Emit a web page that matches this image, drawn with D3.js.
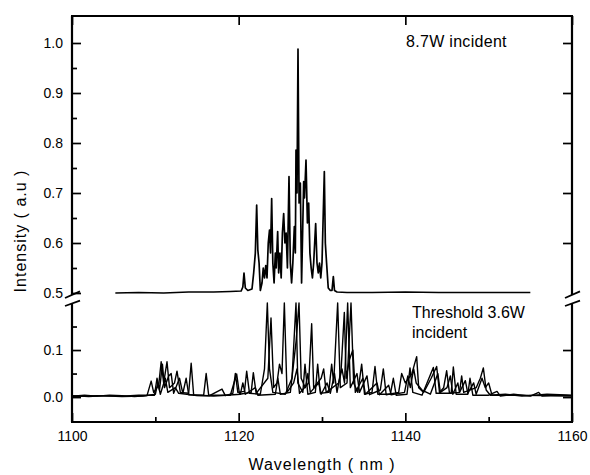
<!DOCTYPE html>
<html>
<head>
<meta charset="utf-8">
<script src="https://cdn.jsdelivr.net/npm/d3@7"></script>
<style>
  body { margin: 0; background: #fff; }
  svg { font-family: "Liberation Sans", Arial, sans-serif; }
  .tick line { stroke: #000; stroke-width: 1.7; }
  .tick text { fill: #000; }
</style>
</head>
<body>
<svg></svg>
<script>
// ticks
const xMajor = [1100, 1120, 1140, 1160];
const xMinor = [1110, 1130, 1150];
const upperMajor = [0.5, 0.6, 0.7, 0.8, 0.9, 1.0];
const upperMinor = [0.55, 0.65, 0.75, 0.85, 0.95];
const lowerMajor = [0.0, 0.1];
const lowerMinor = [0.05, 0.15];

// 8.7 W incident spectrum (wavelength nm, intensity)
const upperSpectrum = [
  [1105.2,0.500],[1108,0.501],[1111,0.500],[1114,0.502],[1117,0.502],[1119,0.503],[1120.3,0.504],
  [1120.5,0.512],[1120.64,0.540],[1120.8,0.510],[1121.1,0.505],[1121.6,0.508],[1121.8,0.540],
  [1122.0,0.580],[1122.16,0.676],[1122.3,0.586],[1122.45,0.560],[1122.6,0.505],[1122.8,0.520],
  [1122.95,0.550],[1123.1,0.530],[1123.25,0.555],[1123.4,0.530],[1123.55,0.600],[1123.7,0.626],
  [1123.82,0.580],[1123.96,0.689],[1124.1,0.560],[1124.25,0.520],[1124.4,0.580],[1124.5,0.550],
  [1124.68,0.623],[1124.8,0.540],[1124.95,0.580],[1125.1,0.530],[1125.25,0.620],[1125.4,0.659],
  [1125.55,0.600],[1125.7,0.620],[1125.85,0.550],[1126.04,0.733],[1126.2,0.560],[1126.35,0.520],
  [1126.5,0.560],[1126.68,0.633],[1126.8,0.580],[1126.88,0.786],[1127.0,0.700],[1127.12,0.988],
  [1127.25,0.680],[1127.4,0.720],[1127.55,0.520],[1127.65,0.600],[1127.8,0.723],[1127.9,0.690],
  [1128.08,0.766],[1128.25,0.640],[1128.4,0.680],[1128.55,0.580],[1128.7,0.550],[1128.85,0.530],
  [1129.0,0.560],[1129.24,0.639],[1129.4,0.560],[1129.55,0.540],[1129.7,0.560],[1129.85,0.530],
  [1130.0,0.560],[1130.28,0.743],[1130.4,0.600],[1130.55,0.560],[1130.75,0.510],[1131.0,0.505],
  [1131.2,0.505],[1131.36,0.533],[1131.5,0.505],[1131.8,0.502],[1133,0.501],[1136,0.501],
  [1140,0.502],[1144,0.501],[1148,0.501],[1152,0.501],[1155,0.501]
];

// threshold 3.6 W spectra, several overlaid scans
const lowerSpectrumA = [
  [1100.0,0.002],[1101.5,0.004],[1103.0,0.002],[1104.5,0.004],[1106.0,0.003],[1107.5,0.001],[1109.0,0.003],
  [1109.5,0.034],[1109.8,0.010],[1110.4,0.025],[1110.7,0.075],[1111.0,0.030],[1111.4,0.075],[1111.7,0.020],
  [1112.3,0.030],[1112.6,0.055],[1113.0,0.010],[1114.0,0.008],[1114.3,0.072],[1114.6,0.004],[1116.5,0.003],
  [1118.0,0.017],[1118.4,0.003],[1119.3,0.008],[1119.6,0.050],[1119.9,0.010],[1120.7,0.012],[1120.96,0.055],
  [1121.3,0.008],[1122.6,0.006],[1123.1,0.060],[1123.44,0.200],[1123.7,0.060],[1124.1,0.010],[1125.6,0.006],
  [1126.4,0.040],[1126.88,0.200],[1127.1,0.030],[1127.7,0.010],[1127.96,0.070],[1128.3,0.006],[1129.2,0.010],
  [1129.48,0.070],[1129.8,0.008],[1130.8,0.010],[1131.16,0.070],[1131.4,0.030],[1131.88,0.200],[1132.2,0.020],
  [1133.0,0.030],[1133.48,0.200],[1133.8,0.030],[1134.3,0.010],[1134.76,0.070],[1135.1,0.006],[1136.0,0.010],
  [1136.36,0.065],[1136.7,0.006],[1138.2,0.006],[1138.56,0.040],[1138.9,0.004],[1140.2,0.006],[1140.56,0.062],
  [1140.9,0.010],[1142.0,0.004],[1143.36,0.063],[1143.7,0.008],[1145.5,0.008],[1145.76,0.064],[1146.1,0.006],
  [1147.5,0.006],[1147.76,0.040],[1148.1,0.004],[1150.0,0.004],[1151.0,0.012],[1151.4,0.002],[1153.0,0.006],
  [1155.0,0.002],[1156.0,0.010],[1156.4,0.002],[1158.0,0.004],[1160.0,0.003]
];
const lowerSpectrumB = [
  [1100.0,0.003],[1102.0,0.001],[1104.0,0.003],[1106.0,0.002],[1108.0,0.004],[1109.9,0.004],[1110.2,0.040],
  [1110.5,0.015],[1110.85,0.070],[1111.1,0.020],[1111.6,0.045],[1111.9,0.050],[1112.2,0.008],[1112.9,0.040],
  [1113.3,0.008],[1113.7,0.040],[1114.0,0.005],[1115.8,0.004],[1116.1,0.050],[1116.4,0.004],[1119.0,0.004],
  [1119.76,0.049],[1120.1,0.006],[1121.5,0.010],[1121.76,0.052],[1122.1,0.008],[1123.5,0.040],[1123.88,0.168],
  [1124.2,0.020],[1124.6,0.030],[1124.9,0.070],[1125.2,0.050],[1125.48,0.200],[1125.8,0.010],[1126.6,0.030],
  [1127.0,0.060],[1127.3,0.008],[1128.4,0.030],[1128.76,0.156],[1129.0,0.020],[1129.9,0.040],[1130.2,0.060],
  [1130.5,0.010],[1132.0,0.030],[1132.4,0.060],[1132.7,0.030],[1133.08,0.200],[1133.4,0.020],[1134.2,0.050],
  [1134.5,0.010],[1135.4,0.045],[1135.7,0.005],[1137.0,0.015],[1137.36,0.060],[1137.7,0.005],[1139.2,0.010],
  [1139.56,0.050],[1140.0,0.030],[1140.8,0.050],[1141.1,0.070],[1141.36,0.086],[1141.6,0.020],[1142.2,0.010],
  [1143.1,0.040],[1143.76,0.065],[1144.1,0.010],[1144.6,0.020],[1144.96,0.056],[1145.3,0.008],[1146.5,0.010],
  [1146.76,0.045],[1147.0,0.010],[1148.5,0.020],[1149.0,0.040],[1149.36,0.062],[1149.7,0.015],[1150.2,0.004],
  [1152.0,0.006],[1154.0,0.002],[1157.0,0.006],[1160.0,0.004]
];
const lowerSpectrumC = [
  [1100.0,0.001],[1103.0,0.003],[1106.0,0.001],[1108.5,0.002],[1110.0,0.006],[1110.3,0.030],[1110.6,0.006],
  [1111.2,0.040],[1111.5,0.010],[1112.4,0.020],[1112.8,0.008],[1115.0,0.003],[1117.0,0.002],[1118.5,0.004],
  [1120.2,0.006],[1120.5,0.030],[1120.8,0.006],[1122.0,0.020],[1122.3,0.004],[1124.4,0.006],[1124.7,0.040],
  [1125.0,0.006],[1126.2,0.010],[1126.9,0.120],[1127.24,0.200],[1127.5,0.040],[1128.0,0.020],[1128.3,0.050],
  [1128.6,0.010],[1129.6,0.030],[1129.9,0.006],[1130.6,0.030],[1131.0,0.008],[1131.5,0.050],[1131.8,0.010],
  [1132.3,0.060],[1132.68,0.180],[1132.9,0.040],[1133.3,0.080],[1133.7,0.100],[1134.0,0.010],[1134.9,0.040],
  [1135.2,0.006],[1136.6,0.030],[1136.9,0.005],[1138.0,0.025],[1138.3,0.005],[1139.9,0.010],[1140.3,0.045],
  [1140.6,0.020],[1141.0,0.060],[1141.3,0.030],[1142.0,0.015],[1143.0,0.006],[1143.5,0.030],[1143.9,0.050],
  [1144.2,0.010],[1145.0,0.020],[1145.4,0.045],[1145.7,0.006],[1146.3,0.030],[1146.5,0.010],[1147.2,0.035],
  [1147.5,0.008],[1148.2,0.030],[1148.5,0.006],[1149.2,0.040],[1149.6,0.020],[1150.0,0.030],[1150.4,0.004],
  [1153.5,0.004],[1156.5,0.003],[1160.0,0.002]
];

let width = 590;
let height = 475;
let mLeft = 72, mRight = 572, mTop = 16, mBottom = 422;
let breakTop = 295, breakBottom = 303.5;

let svg = d3.select('svg')
            .attr('width', width)
            .attr('height', height);

let xScale = d3.scaleLinear().domain([1100, 1160]).range([mLeft, mRight]);
let yUpper = d3.scaleLinear().domain([0.5, 1.054]).range([293, mTop]);
let yLower = d3.scaleLinear().domain([-0.053, 0.2]).range([mBottom, 303]);

// clip regions for the two halves of the broken axis
let defs = svg.append('defs');
defs.append('clipPath').attr('id', 'clipUpper')
    .append('rect').attr('x', mLeft).attr('y', mTop).attr('width', mRight - mLeft).attr('height', breakTop - mTop);
defs.append('clipPath').attr('id', 'clipLower')
    .append('rect').attr('x', mLeft).attr('y', 302).attr('width', mRight - mLeft).attr('height', mBottom - 302);

let lineUpper = d3.line().x(d => xScale(d[0])).y(d => yUpper(d[1]));
let lineLower = d3.line().x(d => xScale(d[0])).y(d => yLower(d[1]));

[lowerSpectrumA, lowerSpectrumB, lowerSpectrumC].forEach(s => {
  svg.append('path')
      .datum(s)
      .attr('clip-path', 'url(#clipLower)')
      .attr('d', lineLower)
      .attr('fill', 'none')
      .attr('stroke', '#000')
      .attr('stroke-width', 1.4)
      .attr('stroke-linejoin', 'round');
});

svg.append('path')
    .datum(upperSpectrum)
    .attr('clip-path', 'url(#clipUpper)')
    .attr('d', lineUpper)
    .attr('fill', 'none')
    .attr('stroke', '#000')
    .attr('stroke-width', 1.7)
    .attr('stroke-linejoin', 'round');

function clean(g) { g.select('.domain').remove(); }

// bottom axis
svg.append('g')
    .attr('transform', `translate(0,${mBottom})`)
    .style('font-size', '14px')
    .call(d3.axisBottom(xScale).tickValues(xMajor).tickSize(-9).tickPadding(9).tickFormat(d3.format('d')))
    .call(clean);
svg.append('g')
    .attr('transform', `translate(0,${mBottom})`)
    .call(d3.axisBottom(xScale).tickValues(xMinor).tickSize(-5).tickFormat(''))
    .call(clean);
// top axis
svg.append('g')
    .attr('transform', `translate(0,${mTop})`)
    .call(d3.axisTop(xScale).tickValues(xMajor).tickSize(-9).tickFormat(''))
    .call(clean);

// left axes
svg.append('g')
    .attr('transform', `translate(${mLeft},0)`)
    .style('font-size', '14px')
    .call(d3.axisLeft(yUpper).tickValues(upperMajor).tickSize(-9).tickPadding(9).tickFormat(d3.format('.1f')))
    .call(clean);
svg.append('g')
    .attr('transform', `translate(${mLeft},0)`)
    .call(d3.axisLeft(yUpper).tickValues(upperMinor).tickSize(-5).tickFormat(''))
    .call(clean);
svg.append('g')
    .attr('transform', `translate(${mLeft},0)`)
    .style('font-size', '14px')
    .call(d3.axisLeft(yLower).tickValues(lowerMajor).tickSize(-9).tickPadding(9).tickFormat(d3.format('.1f')))
    .call(clean);
svg.append('g')
    .attr('transform', `translate(${mLeft},0)`)
    .call(d3.axisLeft(yLower).tickValues(lowerMinor).tickSize(-5).tickFormat(''))
    .call(clean);

// right axes
svg.append('g')
    .attr('transform', `translate(${mRight},0)`)
    .call(d3.axisRight(yUpper).tickValues(upperMajor.slice(1)).tickSize(-9).tickFormat(''))
    .call(clean);
svg.append('g')
    .attr('transform', `translate(${mRight},0)`)
    .call(d3.axisRight(yLower).tickValues(lowerMajor).tickSize(-9).tickFormat(''))
    .call(clean);

// frame with broken sides
let frame = svg.append('g')
    .attr('stroke', '#000')
    .attr('stroke-width', 2.2)
    .attr('fill', 'none');
frame.append('line').attr('x1', mLeft - 1).attr('x2', mRight + 1).attr('y1', mTop).attr('y2', mTop);
frame.append('line').attr('x1', mLeft - 1).attr('x2', mRight + 1).attr('y1', mBottom).attr('y2', mBottom);
[mLeft, mRight].forEach(x => {
  frame.append('line').attr('x1', x).attr('x2', x).attr('y1', mTop).attr('y2', breakTop);
  frame.append('line').attr('x1', x).attr('x2', x).attr('y1', breakBottom).attr('y2', mBottom);
  frame.append('line').attr('x1', x - 7).attr('y1', breakTop + 3).attr('x2', x + 8).attr('y2', breakTop - 3.6)
       .attr('stroke-width', 1.8);
  frame.append('line').attr('x1', x - 7).attr('y1', breakBottom + 2.5).attr('x2', x + 8).attr('y2', breakBottom - 2.8)
       .attr('stroke-width', 1.8);
});

// labels
svg.append('text')
    .attr('x', (mLeft + mRight) / 2)
    .attr('y', 470)
    .style('font-size', '16px')
    .style('letter-spacing', '1px')
    .style('text-anchor', 'middle')
    .text('Wavelength  ( nm )');

svg.append('text')
    .attr('transform', 'translate(26,231) rotate(-90)')
    .style('font-size', '16px')
    .style('letter-spacing', '1px')
    .style('text-anchor', 'middle')
    .text('Intensity  ( a.u )');

svg.append('text')
    .attr('x', 406)
    .attr('y', 47)
    .style('font-size', '16px')
    .style('letter-spacing', '0.3px')
    .text('8.7W incident');

svg.append('text')
    .attr('x', 412)
    .attr('y', 318)
    .style('font-size', '16px')
    .text('Threshold 3.6W');
svg.append('text')
    .attr('x', 412)
    .attr('y', 337.5)
    .style('font-size', '16px')
    .text('incident');
</script>
</body>
</html>
